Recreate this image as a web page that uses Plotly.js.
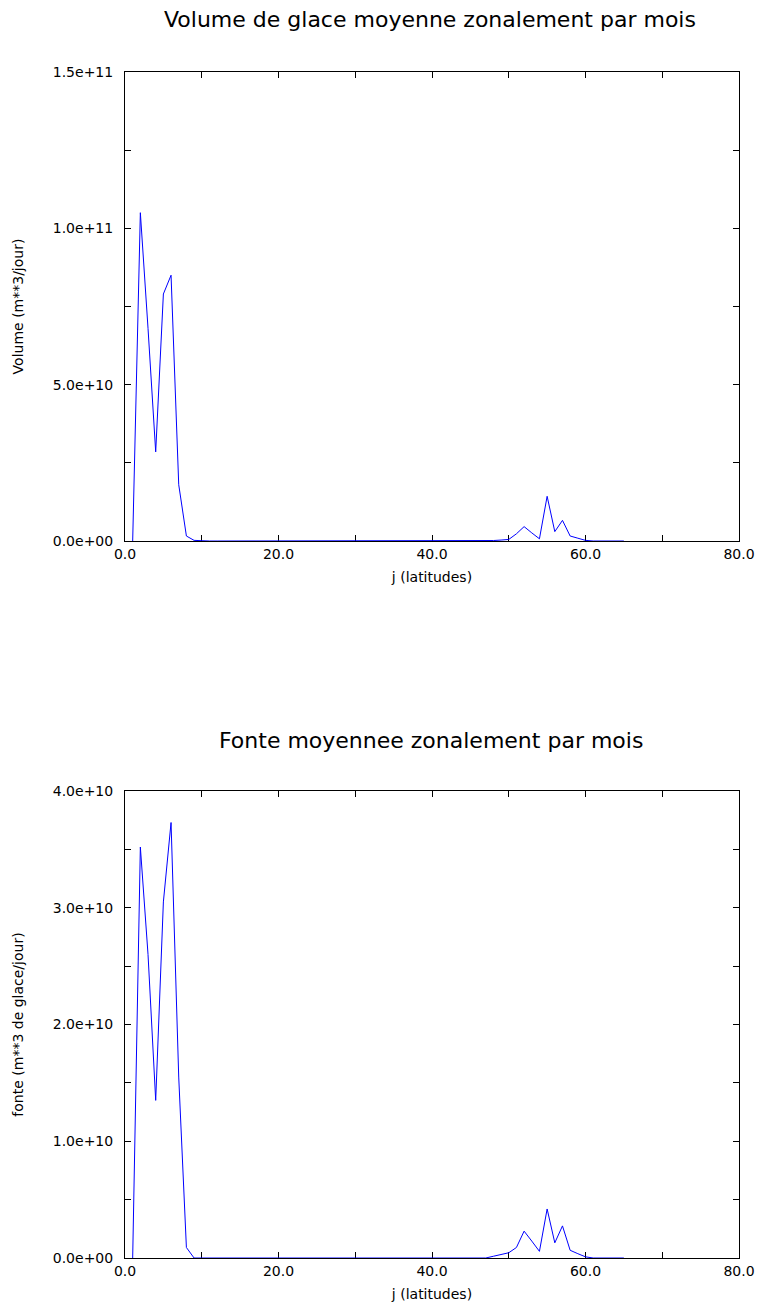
<!DOCTYPE html>
<html>
<head>
<meta charset="utf-8">
<script src="https://cdn.plot.ly/plotly-3.0.1.min.js"></script>
<style>html,body{margin:0;padding:0;background:#fff;}#chart{width:757px;height:1307px;}</style>
</head>
<body>
<div id="chart"></div>
<script>
// latitude index j
const jLatitudes = [1,2,3,4,5,6,7,8,9,10,11,12,13,14,15,16,17,18,19,20,21,22,23,24,25,26,27,28,29,30,31,32,33,34,35,36,37,38,39,40,41,42,43,44,45,46,47,48,49,50,51,52,53,54,55,56,57,58,59,60,61,62,63,64,65];
// Volume de glace (m**3/jour)
const volumeGlace = [0,1.05e11,6.8e10,2.85e10,7.9e10,8.5e10,1.8e10,1.6e9,2e8,0,0,0,0,0,0,0,0,0,0,0,0,0,0,0,0,0,0,0,0,0,0,0,0,0,0,0,0,0,0,0,0,0,0,0,0,0,5e7,1.5e8,3e8,5e8,2.3e9,4.6e9,2.6e9,7e8,1.43e10,3.0e9,6.6e9,1.6e9,9e8,2e8,0,0,0,0,0];
// Fonte (m**3 de glace/jour)
const fonteGlace = [0,3.52e10,2.6e10,1.35e10,3.05e10,3.73e10,1.55e10,9e8,0,0,0,0,0,0,0,0,0,0,0,0,0,0,0,0,0,0,0,0,0,0,0,0,0,0,0,0,0,0,0,0,0,0,0,0,0,0,0,1.5e8,3e8,4.5e8,9e8,2.3e9,1.45e9,5.7e8,4.2e9,1.3e9,2.75e9,6.6e8,3.7e8,1e8,0,0,0,0,0];

const xTickVals = [0,10,20,30,40,50,60,70,80];
const xTickText = ['0.0','','20.0','','40.0','','60.0','','80.0'];
const y1TickVals = [0,2.5e10,5e10,7.5e10,1e11,1.25e11,1.5e11];
const y1TickText = ['0.0e+00','','5.0e+10','','1.0e+11','','1.5e+11'];
const y2TickVals = [0,5e9,1e10,1.5e10,2e10,2.5e10,3e10,3.5e10,4e10];
const y2TickText = ['0.0e+00','','1.0e+10','','2.0e+10','','3.0e+10','','4.0e+10'];

const W = 757, H = 1307;
const FONT = 'DejaVu Sans, sans-serif';
const xDom = [125/W, 739/W];
const y1Dom = [1-541/H, 1-72/H];
const y2Dom = [1-1258/H, 1-791/H];

function xAxis(anchor){
  return {
    domain: xDom, anchor: anchor, range: [0,80],
    tickmode: 'array', tickvals: xTickVals, ticktext: xTickText,
    ticks: 'inside', ticklen: 6, tickcolor: '#000', tickwidth: 1,
    showline: true, linecolor: '#000', linewidth: 1, mirror: 'ticks',
    showgrid: false, zeroline: false, layer: 'below traces',
    tickfont: {family: FONT, size: 14, color: '#000'},
    title: {text: 'j (latitudes)', font: {family: FONT, size: 14, color: '#000'}, standoff: 11},
    automargin: false
  };
}
function yAxis(anchor, dom, range, tv, tt, title){
  return {
    domain: dom, anchor: anchor, range: range,
    tickmode: 'array', tickvals: tv, ticktext: tt,
    ticks: 'inside', ticklen: 6, tickcolor: '#000', tickwidth: 1,
    showline: true, linecolor: '#000', linewidth: 1, mirror: 'ticks',
    showgrid: false, zeroline: false, layer: 'below traces',
    tickfont: {family: FONT, size: 14, color: '#000'},
    ticklabelstandoff: 8,
    title: {text: title, font: {family: FONT, size: 14, color: '#000'}, standoff: 25},
    automargin: false
  };
}

const traces = [
  {x: jLatitudes, y: volumeGlace, xaxis: 'x', yaxis: 'y', type: 'scatter', mode: 'lines',
   line: {color: '#0000ff', width: 1}, showlegend: false, hoverinfo: 'skip'},
  {x: jLatitudes, y: fonteGlace, xaxis: 'x2', yaxis: 'y2', type: 'scatter', mode: 'lines',
   line: {color: '#0000ff', width: 1}, showlegend: false, hoverinfo: 'skip'}
];

const layout = {
  width: W, height: H,
  margin: {l: 0, r: 0, t: 0, b: 0},
  paper_bgcolor: '#fff', plot_bgcolor: '#fff',
  showlegend: false,
  xaxis: xAxis('y'),
  yaxis: yAxis('x', y1Dom, [0,1.5e11], y1TickVals, y1TickText, 'Volume (m**3/jour)'),
  xaxis2: xAxis('y2'),
  yaxis2: yAxis('x2', y2Dom, [0,4e10], y2TickVals, y2TickText, 'fonte (m**3 de glace/jour)'),
  annotations: [
    {text: 'Volume de glace moyenne zonalement par mois', xref: 'paper', yref: 'paper',
     x: 430/W, y: 1-20/H, xanchor: 'center', yanchor: 'middle', showarrow: false,
     font: {family: FONT, size: 22, color: '#000'}},
    {text: 'Fonte moyennee zonalement par mois', xref: 'paper', yref: 'paper',
     x: 431/W, y: 1-740/H, xanchor: 'center', yanchor: 'middle', showarrow: false,
     font: {family: FONT, size: 22, color: '#000'}}
  ]
};

Plotly.newPlot('chart', traces, layout, {displayModeBar: false, staticPlot: true});
</script>
</body>
</html>
